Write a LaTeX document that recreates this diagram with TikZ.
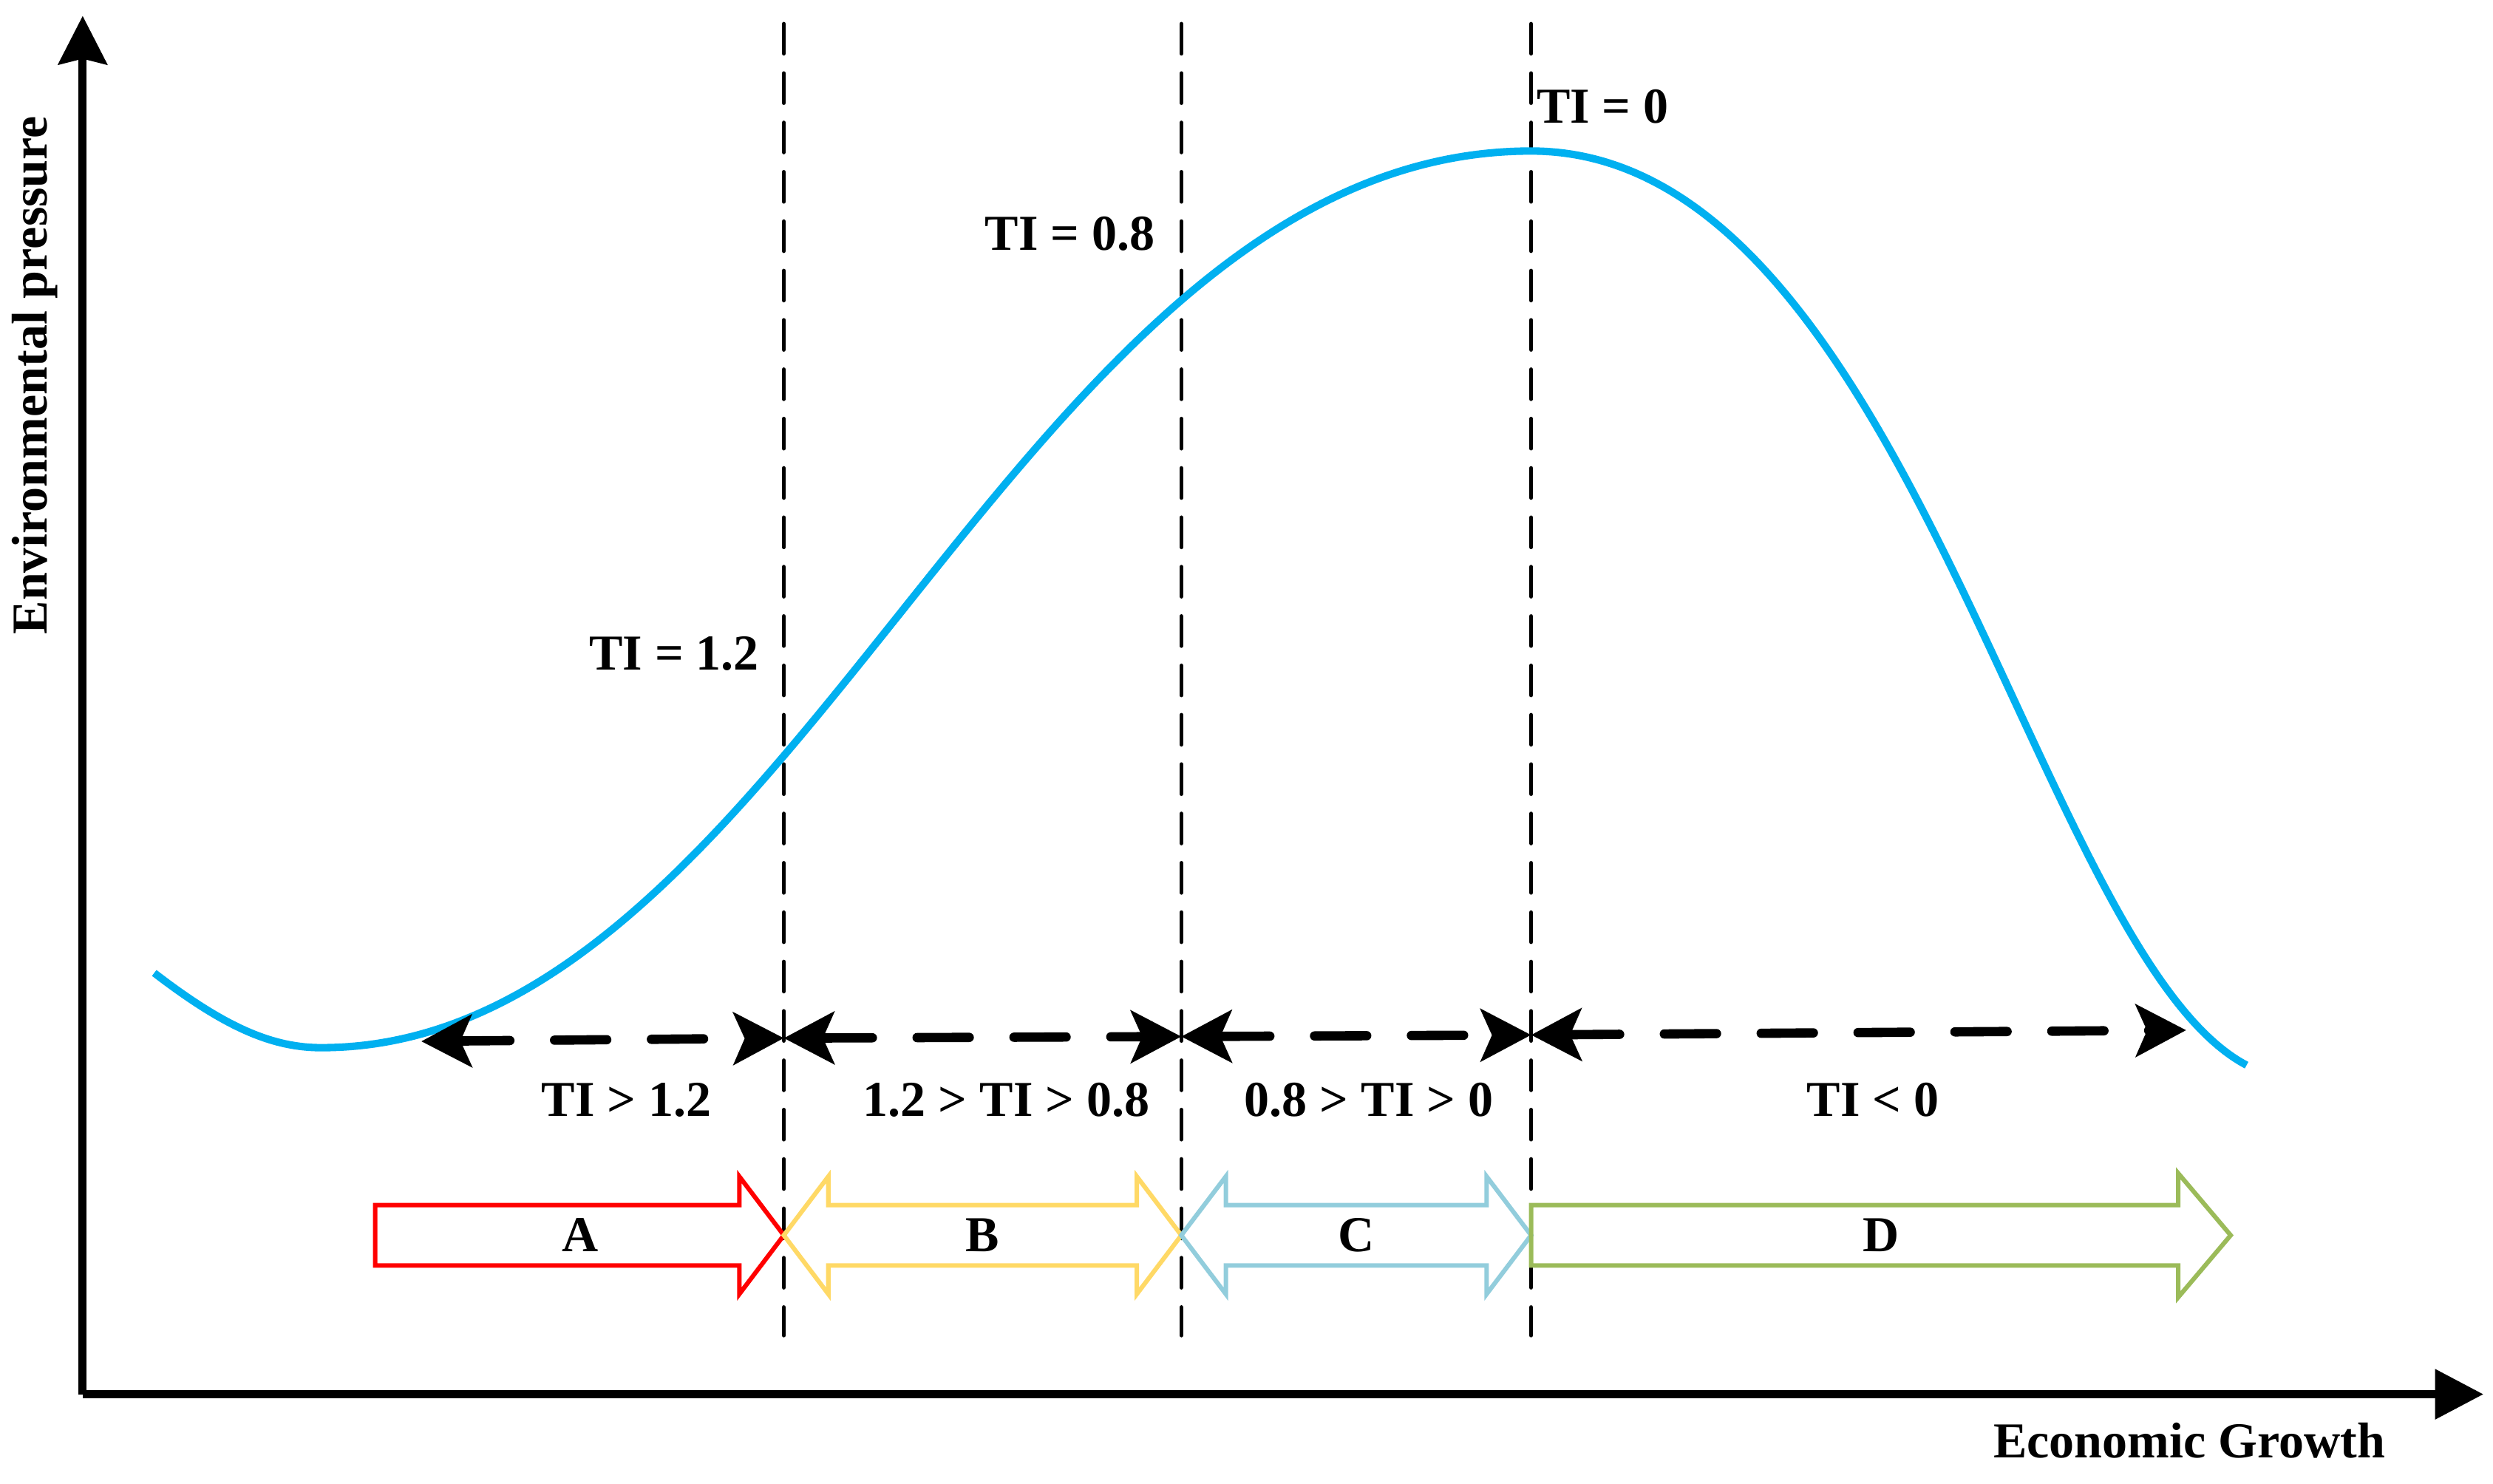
\documentclass[tikz,border=0pt]{standalone}
\usepackage{fontspec}
\setmainfont{Liberation Serif}
\usetikzlibrary{arrows.meta}
\definecolor{curveblue}{HTML}{00B0F0}
\definecolor{arrA}{HTML}{FF0000}
\definecolor{arrB}{HTML}{FFD966}
\definecolor{arrC}{HTML}{92CDDC}
\definecolor{arrD}{HTML}{9BBB59}
\tikzset{
  axisline/.style={line width=4.4pt},
  vdash/.style={line width=2.1pt, line cap=round, dash pattern=on 16pt off 10.5pt},
  harrow/.style={line width=5pt, line cap=round, dash pattern=on 28pt off 24pt,
    {Stealth[length=27pt,width=28pt,inset=6pt]}-{Stealth[length=27pt,width=28pt,inset=6pt]}},
  curvestyle/.style={line width=4pt, curveblue},
  blockarrow/.style={line width=2.4pt, line join=miter},
  lbl/.style={inner sep=0pt},
}
\begin{document}
\begin{tikzpicture}[x=0.03cm,y=-0.03cm, font=\fontsize{27}{30}\selectfont\bfseries]
\useasboundingbox (0,0) rectangle (1568,933);
% axes
\coordinate (O) at (52,877);
\coordinate (Ytop) at (52,10);
\coordinate (Xend) at (1562,877);
\draw[axisline, -{Stealth[length=26pt,width=26pt,inset=3pt]}] (O) -- (Ytop);
\draw[axisline, -{Triangle[length=26pt,width=26pt]}] (O) -- (Xend);
\node[lbl, rotate=90] (ylab) at (22,236) {Environmental pressure};
\node[lbl] (xlab) at (1377,906) {Economic Growth};
% vertical dashed lines
\coordinate (v1t) at (493,15); \coordinate (v1b) at (493,840);
\coordinate (v2t) at (743,15); \coordinate (v2b) at (743,840);
\coordinate (v3t) at (963,15); \coordinate (v3b) at (963,840);
\draw[vdash] (v1t) -- (v1b);
\draw[vdash] (v2t) -- (v2b);
\draw[vdash] (v3t) -- (v3b);
% curve
\draw[curvestyle] (97,612) .. controls (140,645) and (170,659) .. (202,659)
  .. controls (500,659) and (640,95) .. (963,95)
  .. controls (1200,95) and (1280,600) .. (1413,670);
% point labels
\node[lbl] (ti12) at (424,411) {TI = 1.2};
\node[lbl] (ti08) at (673,147) {TI = 0.8};
\node[lbl] (ti0) at (1008,67) {TI = 0};
% dashed double arrows
\coordinate (h0) at (265,655);
\coordinate (h1) at (493,653);
\coordinate (h2) at (743,652);
\coordinate (h3) at (963,651);
\coordinate (h4) at (1375,648);
\draw[harrow] (h0) -- (h1);
\draw[harrow] (h1) -- (h2);
\draw[harrow] (h2) -- (h3);
\draw[harrow] (h3) -- (h4);
\node[lbl] (r1) at (394,692) {TI > 1.2};
\node[lbl] (r2) at (633,692) {1.2 > TI > 0.8};
\node[lbl] (r3) at (861,692) {0.8 > TI > 0};
\node[lbl] (r4) at (1178,692) {TI < 0};
% block arrows
\draw[blockarrow, arrA] (236,758) -- (465,758) -- (465,740) -- (493,777) -- (465,814) -- (465,796) -- (236,796) -- cycle;
\draw[blockarrow, arrB] (493,777) -- (521,740) -- (521,758) -- (715,758) -- (715,740) -- (743,777) -- (715,814) -- (715,796) -- (521,796) -- (521,814) -- cycle;
\draw[blockarrow, arrC] (743,777) -- (771,740) -- (771,758) -- (935,758) -- (935,740) -- (963,777) -- (935,814) -- (935,796) -- (771,796) -- (771,814) -- cycle;
\draw[blockarrow, arrD] (963,758) -- (1370,758) -- (1370,738) -- (1403,777) -- (1370,816) -- (1370,796) -- (963,796) -- cycle;
\node[lbl] (la) at (365,777) {A};
\node[lbl] (lb) at (618,777) {B};
\node[lbl] (lc) at (853,777) {C};
\node[lbl] (ld) at (1183,777) {D};
\end{tikzpicture}
\end{document}
